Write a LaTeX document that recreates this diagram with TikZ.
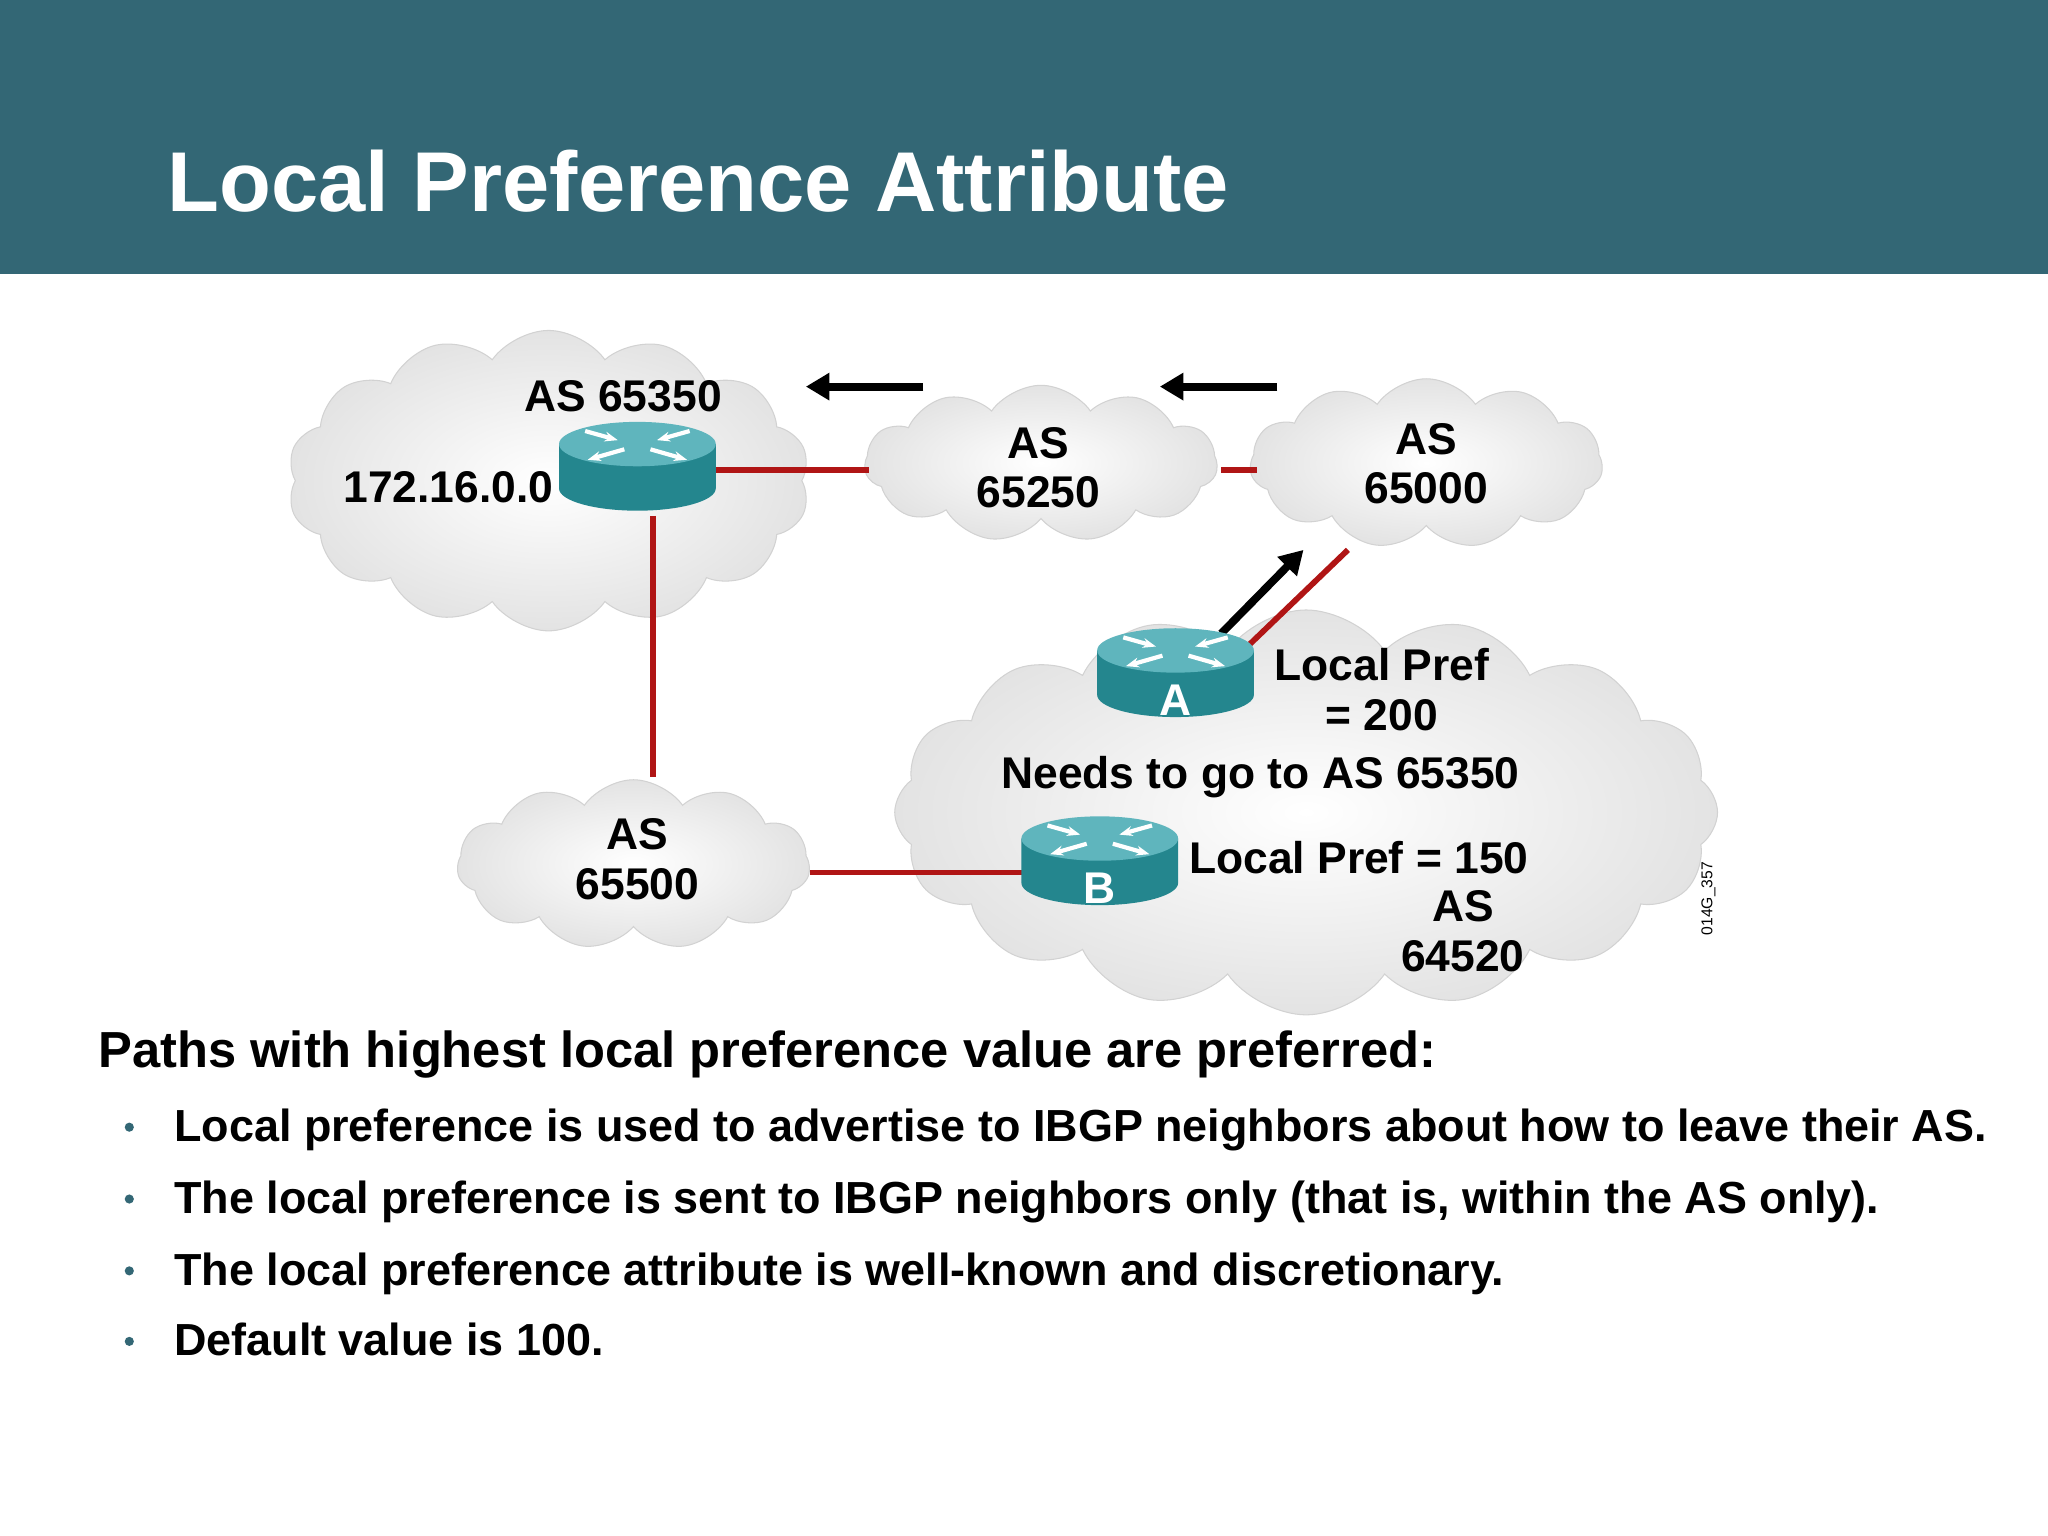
\documentclass[tikz,border=0pt]{standalone}
\usepackage{fontspec}
\setmainfont{Liberation Sans}
\usetikzlibrary{shapes.symbols,arrows.meta}
\definecolor{hdr}{HTML}{336775}
\definecolor{lnk}{HTML}{B01515}
\definecolor{rtop}{HTML}{5FB5BD}
\definecolor{rbody}{HTML}{24868E}
\tikzset{
  cl/.style={cloud, cloud puffs=#1, cloud puff arc=110, draw=gray!35, inner color=white, outer color=gray!22},
  lbl/.style={font=\bfseries\fontsize{17}{19}\selectfont, align=center, inner sep=0},
  link/.style={draw=lnk, line width=2.2pt},
  flow/.style={line width=3pt, -{Triangle[length=9pt,width=10pt]}},
  bul/.style={anchor=base west, font=\bfseries\fontsize{17.2}{19}\selectfont, inner sep=0},
}
\newcommand\rtr[2]{%
  \begin{scope}[shift={(#1)}]
  \fill[rbody] (-60,-12) -- (-60,22) arc[start angle=180,end angle=0,x radius=60,y radius=17] -- (60,-12) -- cycle;
  \fill[rtop] (0,-12) ellipse[x radius=60,y radius=17];
  \draw[white,line width=1.6pt,-{Stealth[length=5pt]}] (-40,-22) -- (-15,-15);
  \draw[white,line width=1.6pt,-{Stealth[length=5pt]}] (40,-22) -- (15,-15);
  \draw[white,line width=1.6pt,-{Stealth[length=5pt]}] (-10,-8) -- (-38,0);
  \draw[white,line width=1.6pt,-{Stealth[length=5pt]}] (10,-8) -- (38,0);
  \node[lbl,white] at (0,26) {#2};
  \end{scope}}
\begin{document}
\begin{tikzpicture}[x=0.5pt,y=-0.5pt]
\useasboundingbox (0,0) rectangle (1568,1176);
\fill[white] (0,0) rectangle (1568,1176);
\fill[hdr] (0,0) rectangle (1568,210);
\node[anchor=base west,white,font=\bfseries\fontsize{32.5}{34}\selectfont,inner sep=0] (title) at (128,162) {Local Preference Attribute};
% clouds
\node[cl=14, minimum width=400*0.5pt, minimum height=230*0.5pt] (c1) at (420,368) {};
\node[cl=11, minimum width=270*0.5pt, minimum height=120*0.5pt] (c2) at (797,355) {};
\node[cl=11, minimum width=270*0.5pt, minimum height=130*0.5pt] (c3) at (1092,355) {};
\node[cl=16, minimum width=630*0.5pt, minimum height=310*0.5pt] (c4) at (1000,622) {};
\node[cl=11, minimum width=270*0.5pt, minimum height=130*0.5pt] (c5) at (485,662) {};
% coordinates
\coordinate (r1) at (488,360);
\coordinate (c2w) at (665,360);
\coordinate (c2e) at (935,360);
\coordinate (c3w) at (962,360);
\coordinate (c1s) at (500,595);
\coordinate (r1s) at (500,395);
\coordinate (c5e) at (620,668);
\coordinate (rbw) at (785,668);
\coordinate (ran) at (955,495);
\coordinate (c3s) at (1032,421);
% links
\draw[link] (r1) -- (c2w);
\draw[link] (c2e) -- (c3w);
\draw[link] (r1s) -- (c1s);
\draw[link] (c5e) -- (rbw);
\draw[link] (ran) -- (c3s);
% arrows
\coordinate (a1s) at (707,296); \coordinate (a1e) at (617,296);
\coordinate (a2s) at (978,296); \coordinate (a2e) at (888,296);
\coordinate (a3s) at (935,485); \coordinate (a3e) at (998,421);
\draw[flow] (a1s) -- (a1e);
\draw[flow] (a2s) -- (a2e);
\draw[flow] (a3s) -- (a3e);
% routers
\rtr{488,352}{}
\rtr{900,510}{A}
\rtr{842,654}{B}
% labels
\node[lbl] (t1) at (477,303) {AS 65350};
\node[lbl,anchor=east] (t2) at (424,373) {172.16.0.0};
\node[lbl] (t3) at (795,358) {AS\\65250};
\node[lbl] (t4) at (1092,355) {AS\\65000};
\node[lbl] (t5) at (488,658) {AS\\65500};
\node[lbl] (t6) at (1058,528) {Local Pref\\= 200};
\node[lbl] (t7) at (965,595) {Needs to go to AS 65350};
\node[lbl,anchor=west] (t8) at (910,657) {Local Pref = 150};
\node[lbl] (t9) at (1120,713) {AS\\64520};
\node[rotate=90,font=\fontsize{6}{7}\selectfont,inner sep=0] (t10) at (1308,688) {014G\_357};
% text
\node[anchor=base west,font=\bfseries\fontsize{19.4}{21}\selectfont,inner sep=0] (h) at (75,817) {Paths with highest local preference value are preferred:};
\foreach \y/\t [count=\i] in {874/{Local preference is used to advertise to IBGP neighbors about how to leave their AS.},
  929/{The local preference is sent to IBGP neighbors only (that is, within the AS only).},
  984/{The local preference attribute is well-known and discretionary.},
  1038/{Default value is 100.}}{
  \node[bul] (b\i) at (133,\y) {\t};
  \fill[hdr] (99,\y-11) circle (3.5);
}
\end{tikzpicture}
\end{document}
